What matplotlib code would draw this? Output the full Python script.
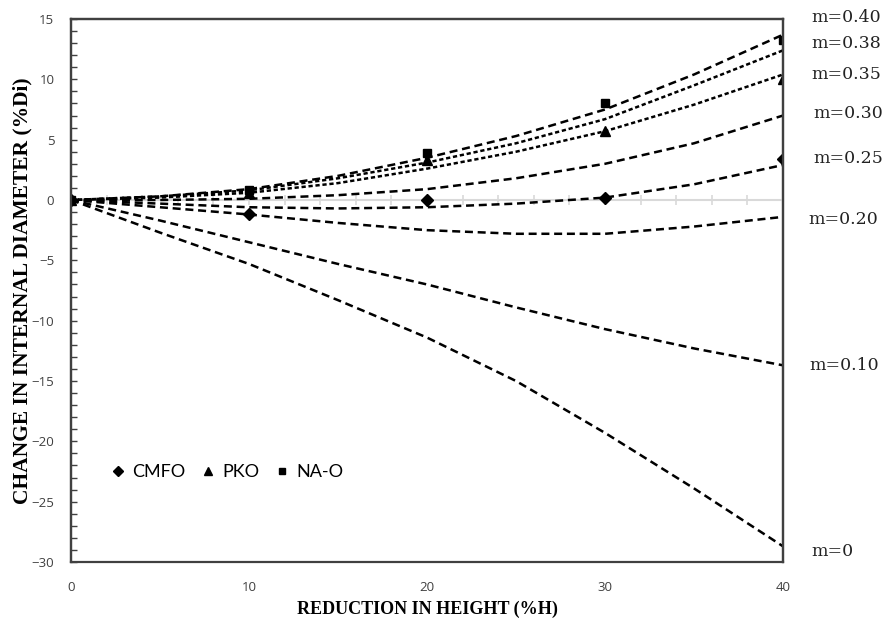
import matplotlib
matplotlib.use("Agg")
import matplotlib.pyplot as plt
from matplotlib.ticker import MultipleLocator

# ---- data ----
x_curve = [0, 5, 10, 15, 20, 25, 30, 35, 40]
m_labels = ["m=0.40", "m=0.38", "m=0.35", "m=0.30", "m=0.25", "m=0.20", "m=0.10", "m=0"]
m040 = [0, 0.3, 0.9, 2.0, 3.5, 5.3, 7.5, 10.4, 13.7]
m038 = [0, 0.3, 0.8, 1.8, 3.1, 4.7, 6.7, 9.5, 12.4]
m035 = [0, 0.2, 0.6, 1.4, 2.6, 4.0, 5.7, 7.9, 10.4]
m030 = [0, 0.0, 0.1, 0.4, 0.9, 1.8, 3.0, 4.7, 7.0]
m025 = [0, -0.3, -0.6, -0.7, -0.6, -0.3, 0.2, 1.3, 2.9]
m020 = [0, -0.6, -1.2, -1.9, -2.5, -2.8, -2.8, -2.2, -1.4]
m010 = [0, -1.7, -3.5, -5.3, -7.0, -8.9, -10.7, -12.3, -13.7]
m000 = [0, -2.7, -5.3, -8.3, -11.4, -15.0, -19.3, -23.9, -28.7]
curves = [m040, m038, m035, m030, m025, m020, m010, m000]

x_exp = [0, 10, 20, 30, 40]
cmfo = [0, -1.2, 0.0, 0.2, 3.4]
pko = [0, 0.6, 3.3, 5.7, 10.0]
nao = [0, 0.8, 3.9, 8.0, 13.3]

# label anchor heights (data y) for right-side curve labels
label_y = [15.1, 13.0, 10.4, 7.2, 3.4, -1.65, -13.75, -29.1]
label_dx = [41.6, 41.6, 41.6, 41.7, 41.7, 41.4, 41.5, 41.6]

fig = plt.figure(figsize=(8.83, 6.25), dpi=100)
ax = fig.add_axes([71/883, 1-562/625, (783-71)/883, (562-19)/625])

long_ls = (0, (3.2, 1.9))
short_ls = (0, (1.7, 1.1))
styles = [long_ls, short_ls, short_ls, long_ls, long_ls, long_ls, long_ls, long_ls]
for ys, ls in zip(curves, styles):
    ax.plot(x_curve, ys, color="black", lw=1.8, linestyle=ls, zorder=3)

ax.plot(x_exp, cmfo, linestyle="none", marker="D", ms=6.5, color="black", label="CMFO", zorder=4)
ax.plot(x_exp, pko, linestyle="none", marker="^", ms=7.5, color="black", label="PKO", zorder=4)
ax.plot(x_exp, nao, linestyle="none", marker="s", ms=5.5, color="black", label="NA-O", zorder=4)

ax.set_xlim(0, 40)
ax.set_ylim(-30, 15)

# gray zero axis line with small ticks
ax.spines["bottom"].set_position(("data", 0))
ax.spines["bottom"].set_color("#d9d9d9")
ax.spines["bottom"].set_linewidth(1.5)
ax.xaxis.set_major_locator(MultipleLocator(2))
ax.tick_params(axis="x", which="both", direction="inout", length=7, width=1.2,
               color="#d9d9d9", labelbottom=False)

for s in ["left", "top", "right"]:
    ax.spines[s].set_color("#404040")
    ax.spines[s].set_linewidth(1.6)
ax.yaxis.set_major_locator(MultipleLocator(5))
ax.yaxis.set_minor_locator(MultipleLocator(1))
ax.tick_params(axis="y", which="both", direction="in", length=4, width=1.0,
               color="#404040", pad=12, labelsize=9.5, labelcolor="#404040")
for lab in ax.get_yticklabels():
    lab.set_fontfamily("Open Sans")

# frame axis with bottom labels
ax2 = ax.twiny()
ax2.set_xlim(0, 40)
ax2.xaxis.set_ticks_position("bottom")
ax2.xaxis.set_label_position("bottom")
ax2.spines["bottom"].set_visible(True)
ax2.spines["bottom"].set_position(("axes", 0))
for s in ["left", "top", "right", "bottom"]:
    ax2.spines[s].set_color("#404040")
    ax2.spines[s].set_linewidth(1.6)
ax2.set_xticks([0, 10, 20, 30, 40])
ax2.tick_params(axis="x", length=0, pad=14, labelsize=9.5, labelcolor="#404040")
for lab in ax2.get_xticklabels():
    lab.set_fontfamily("Open Sans")
ax2.set_xlabel("REDUCTION IN HEIGHT (%H)", fontfamily="Liberation Serif",
               fontweight="bold", fontsize=13, labelpad=4.5)

ax.set_ylabel("CHANGE IN INTERNAL DIAMETER (%Di)", fontfamily="Liberation Serif",
              fontweight="bold", fontsize=15.5, labelpad=-1)

for lab, yv, xv in zip(m_labels, label_y, label_dx):
    ax.text(xv, yv, lab, ha="left", va="center", fontsize=12.5,
            fontfamily="DejaVu Serif", clip_on=False, color="#222222")

leg = ax.legend(loc="center left", bbox_to_anchor=(0.053, 0.166), ncol=3, frameon=False,
                borderpad=0, borderaxespad=0, markerscale=0.85,
                handletextpad=0.3, columnspacing=0.75, handlelength=1.0,
                prop={"family": "Lato", "size": 13})

fig.savefig("out.png", dpi=100)
